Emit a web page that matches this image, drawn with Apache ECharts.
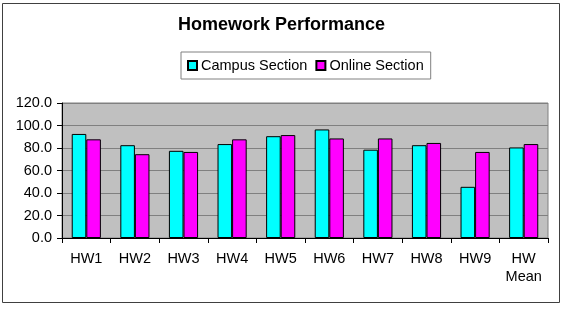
<!DOCTYPE html>
<html>
<head>
<meta charset="utf-8">
<script src="https://cdn.jsdelivr.net/npm/echarts@6/dist/echarts.min.js"></script>
<style>
  html, body { margin: 0; padding: 0; background: #fff; }
  #chart { width: 564px; height: 309px; }
</style>
</head>
<body>
<div id="chart"></div>
<script>
// 作业类别和两个班的成绩
var categories = ['HW1', 'HW2', 'HW3', 'HW4', 'HW5', 'HW6', 'HW7', 'HW8', 'HW9', 'HW\nMean'];
var campusScores = [92.5, 82.5, 77.5, 83.5, 90.5, 96.5, 78.5, 82.5, 45.5, 80.5];
var onlineScores = [87.7, 74.5, 76.5, 87.7, 91.5, 88.5, 88.5, 84.5, 76.5, 83.5];
var seriesNames = ['Campus Section', 'Online Section'];

var myChart = echarts.init(document.getElementById('chart'));

var option = {
    animation: false,
    backgroundColor: '#ffffff',
    textStyle: { fontFamily: 'Liberation Sans, Arial, sans-serif' },
    title: {
        text: 'Homework Performance',
        left: 173,
        top: 11,
        textStyle: { fontSize: 18, fontWeight: 'bold', color: '#000' }
    },
    legend: {
        data: seriesNames,
        left: 181,
        top: 52,
        padding: [6, 7, 6, 6],
        itemGap: 8,
        itemWidth: 9,
        itemHeight: 9,
        borderColor: '#808080',
        borderWidth: 1,
        icon: 'rect',
        textStyle: { fontSize: 14.5, color: '#000', padding: [0, 0, 0, -1], lineHeight: 15 }
    },
    graphic: [{
        type: 'rect',
        shape: { x: 2.5, y: 3.5, width: 557, height: 299 },
        style: { fill: null, stroke: '#404040', lineWidth: 1 },
        silent: true
    }],
    grid: {
        left: 62,
        right: 16,
        top: 103,
        bottom: 71,
        show: true,
        backgroundColor: '#c0c0c0',
        borderColor: '#808080',
        borderWidth: 1
    },
    xAxis: {
        type: 'category',
        data: categories,
        boundaryGap: true,
        axisLine: { lineStyle: { color: '#000', width: 1 } },
        axisTick: { show: true, length: 5, alignWithLabel: false, lineStyle: { color: '#000' } },
        axisLabel: { color: '#000', fontSize: 14.5, margin: 12, lineHeight: 18, interval: 0 }
    },
    yAxis: {
        type: 'value',
        min: 0,
        max: 120,
        interval: 20,
        axisLine: { show: true, lineStyle: { color: '#000', width: 1 } },
        axisTick: { show: true, length: 5, lineStyle: { color: '#000' } },
        axisLabel: {
            color: '#000', fontSize: 14.5, margin: 10,
            formatter: function (v) { return v.toFixed(1); }
        },
        splitLine: { show: true, lineStyle: { color: '#808080', width: 1 } }
    },
    series: [
        {
            name: seriesNames[0],
            type: 'bar',
            data: campusScores,
            barGap: '0%',
            barCategoryGap: '40%',
            itemStyle: { color: '#00ffff', borderColor: '#000', borderWidth: 1 }
        },
        {
            name: seriesNames[1],
            type: 'bar',
            data: onlineScores,
            itemStyle: { color: '#ff00ff', borderColor: '#000', borderWidth: 1 }
        }
    ]
};

myChart.setOption(option);
</script>
</body>
</html>
